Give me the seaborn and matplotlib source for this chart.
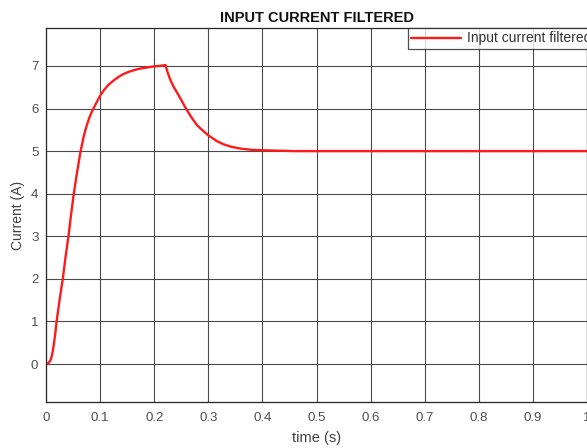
import matplotlib
matplotlib.use("Agg")
import matplotlib.pyplot as plt
import seaborn as sns
import pandas as pd

# Filtered input current samples
time_s = [0, 0.004, 0.008, 0.011, 0.014, 0.017, 0.0195, 0.025, 0.031, 0.036,
          0.0415, 0.046, 0.051, 0.057, 0.064, 0.07, 0.075, 0.08, 0.085, 0.09,
          0.095, 0.1, 0.107, 0.115, 0.125, 0.135, 0.145, 0.155, 0.165, 0.175,
          0.185, 0.2, 0.21, 0.221, 0.224, 0.229, 0.235, 0.242, 0.25, 0.26,
          0.27, 0.279, 0.29, 0.3, 0.315, 0.328, 0.343, 0.359, 0.38, 0.4,
          0.43, 0.46, 0.5, 0.6, 0.7, 0.8, 0.9, 1.0]
current_a = [0, 0.02, 0.08, 0.2, 0.42, 0.7, 0.99, 1.5, 2.0, 2.5,
             3.0, 3.47, 3.97, 4.47, 5.0, 5.36, 5.59, 5.78, 5.93, 6.06,
             6.18, 6.3, 6.43, 6.55, 6.66, 6.75, 6.82, 6.87, 6.91, 6.94,
             6.96, 6.99, 7.0, 7.02, 6.88, 6.7, 6.53, 6.38, 6.2, 5.97,
             5.77, 5.61, 5.48, 5.37, 5.24, 5.16, 5.1, 5.06, 5.03, 5.02,
             5.01, 5.0, 5.0, 5.0, 5.0, 5.0, 5.0, 5.0]
x_ticks = [0, 0.1, 0.2, 0.3, 0.4, 0.5, 0.6, 0.7, 0.8, 0.9, 1.0]
x_tick_labels = ["0", "0.1", "0.2", "0.3", "0.4", "0.5", "0.6", "0.7", "0.8", "0.9", "1"]
y_ticks = [0, 1, 2, 3, 4, 5, 6, 7]
series_name = "Input current filtered"

sns.set_theme(style="white")
plt.rcParams["font.family"] = ["Liberation Sans", "DejaVu Sans"]

df = pd.DataFrame({"t": time_s, "i": current_a})

fig = plt.figure(figsize=(5.87, 4.48), dpi=100)
ax = fig.add_axes([46 / 587, 1 - 402 / 448, 541 / 587, (402 - 28) / 448])

sns.lineplot(data=df, x="t", y="i", color="#ff1a1a", linewidth=1.7,
             label=series_name, ax=ax)

ax.set_xlim(0, 1)
ax.set_ylim(-0.89, 7.89)
ax.set_xticks(x_ticks)
ax.set_xticklabels(x_tick_labels)
ax.set_yticks(y_ticks)
ax.grid(True, color="#4a4a4a", linewidth=0.8)
ax.tick_params(axis="x", colors="#4d4d4d", labelsize=9.5, length=0, pad=7)
ax.tick_params(axis="y", colors="#4d4d4d", labelsize=9.5, length=0, pad=5.5)
for s in ax.spines.values():
    s.set_color("#262626")
    s.set_linewidth(0.9)

ax.set_xlabel("time (s)", fontsize=10.5, color="#404040", labelpad=5)
ax.set_ylabel("Current (A)", fontsize=10, color="#404040", labelpad=4)
ax.set_title("INPUT CURRENT FILTERED", fontsize=10.5, fontweight="bold",
             color="#111111", pad=4)

leg = ax.legend(loc="upper left", bbox_to_anchor=((408 - 46) / 541, 1.0),
                borderaxespad=0, fontsize=10, frameon=True, fancybox=False,
                handlelength=3.6, handletextpad=0.4, borderpad=0.25)
leg.get_frame().set_edgecolor("#222222")
leg.get_frame().set_linewidth(0.9)
for txt in leg.get_texts():
    txt.set_color("#333333")

fig.savefig("out.png", dpi=100)
